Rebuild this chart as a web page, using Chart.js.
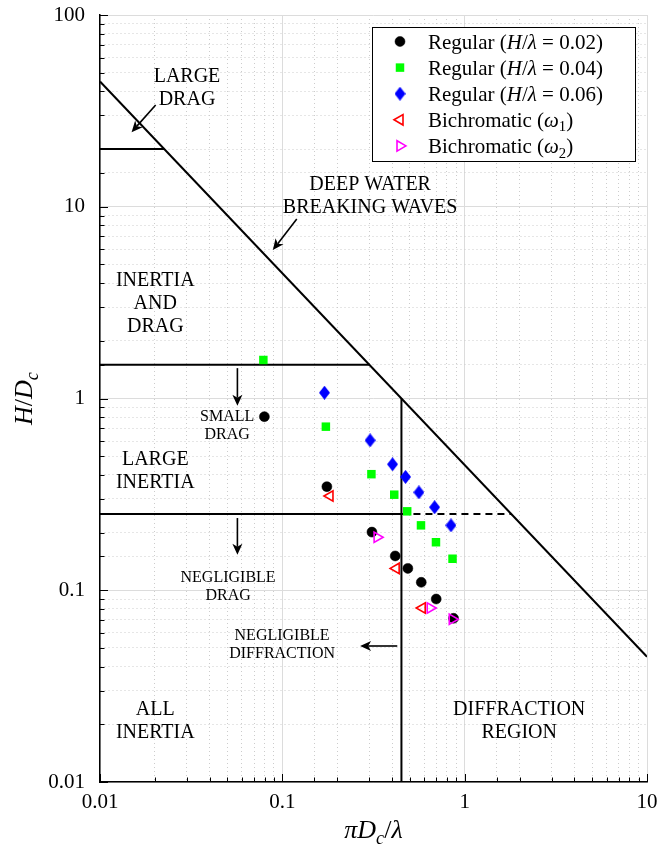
<!DOCTYPE html>
<html>
<head>
<meta charset="utf-8">
<script src="https://cdn.jsdelivr.net/npm/chart.js@4.4.1/dist/chart.umd.min.js"></script>
<style>
  html, body { margin: 0; padding: 0; background: #fff; }
  #wrap { width: 670px; height: 848px; }
</style>
</head>
<body>
<div id="wrap"><canvas id="waveChart" width="670" height="848"></canvas></div>
<script>
// Measured points (pi*Dc/lambda, H/Dc)
const regular002X = [0.0797, 0.1755, 0.310, 0.416, 0.488, 0.578, 0.698, 0.869];
const regular002Y = [0.804, 0.347, 0.201, 0.151, 0.130, 0.110, 0.090, 0.0714];

const regular004X = [0.0787, 0.1733, 0.308, 0.411, 0.484, 0.576, 0.696, 0.858];
const regular004Y = [1.588, 0.713, 0.403, 0.315, 0.258, 0.218, 0.178, 0.146];

const regular006X = [0.1703, 0.303, 0.402, 0.474, 0.561, 0.684, 0.841];
const regular006Y = [1.072, 0.605, 0.454, 0.390, 0.324, 0.271, 0.218];

const bichromW1X = [0.1825, 0.421, 0.585];
const bichromW1Y = [0.310, 0.130, 0.0808];

const bichromW2X = [0.331, 0.647, 0.855];
const bichromW2Y = [0.189, 0.0808, 0.0706];

const seriesLabels = [
    'Regular (*H*/*λ* = 0.02)',
    'Regular (*H*/*λ* = 0.04)',
    'Regular (*H*/*λ* = 0.06)',
    'Bichromatic (*ω*_1)',
    'Bichromatic (*ω*_2)'
];

// Regime boundaries
const breakingX = [0.01, 10];
const breakingY = [45, 0.045];
const largeDragX = [0.01, 0.0225];
const largeDragY = [20, 20];
const inertiaDragX = [0.01, 0.3];
const inertiaDragY = [1.5, 1.5];
const largeInertiaX = [0.01, 0.45];
const largeInertiaY = [0.25, 0.25];
const dashedX = [0.45, 1.8];
const dashedY = [0.25, 0.25];
const diffractionX = [0.45, 0.45];
const diffractionY = [0.01, 1];

// Axis ticks
const xTickLabels = [0.01, 0.1, 1, 10];
const yTickLabels = [0.01, 0.1, 1, 10, 100];

// Region annotations (data coordinates)
const regionLabels = [
    { text: 'LARGE\nDRAG', x: 0.0300, y: 41.4 },
    { text: 'DEEP WATER\nBREAKING WAVES', x: 0.303, y: 11.3 },
    { text: 'INERTIA\nAND\nDRAG', x: 0.0201, y: 3.11 },
    { text: 'SMALL\nDRAG', x: 0.0498, y: 0.719, small: true },
    { text: 'LARGE\nINERTIA', x: 0.0201, y: 0.419 },
    { text: 'NEGLIGIBLE\nDRAG', x: 0.0504, y: 0.104, small: true },
    { text: 'NEGLIGIBLE\nDIFFRACTION', x: 0.0997, y: 0.0518, small: true },
    { text: 'ALL\nINERTIA', x: 0.0201, y: 0.0208 },
    { text: 'DIFFRACTION\nREGION', x: 1.99, y: 0.0208 }
];

const arrows = [
    { x0: 0.0202, y0: 33.9, x1: 0.0149, y1: 24.5 },
    { x0: 0.120, y0: 8.63, x1: 0.0887, y1: 5.95 },
    { x0: 0.0567, y0: 1.44, x1: 0.0567, y1: 0.917 },
    { x0: 0.0567, y0: 0.238, x1: 0.0567, y1: 0.153 },
    { x0: 0.427, y0: 0.0512, x1: 0.267, y1: 0.0512 }
];

const SERIF = '"Liberation Serif", "DejaVu Serif", serif';

function zip(xs, ys) {
    return xs.map((v, i) => ({ x: v, y: ys[i] }));
}

function isDecade(v) {
    const l = Math.log10(v);
    return Math.abs(l - Math.round(l)) < 1e-6;
}

// Blue diamond marker (taller than wide)
function makeDiamond(w, h, color) {
    const c = document.createElement('canvas');
    c.width = w; c.height = h;
    const g = c.getContext('2d');
    g.fillStyle = color;
    g.beginPath();
    g.moveTo(w / 2, 0);
    g.lineTo(w, h / 2);
    g.lineTo(w / 2, h);
    g.lineTo(0, h / 2);
    g.closePath();
    g.fill();
    return c;
}
const diamond = makeDiamond(11, 14, '#0000ff');

// Simple rich text: *...* italic, _x subscript
function richSegments(str) {
    const segs = [];
    let italic = false;
    for (let i = 0; i < str.length; i++) {
        const ch = str[i];
        if (ch === '*') { italic = !italic; continue; }
        if (ch === '_') { segs.push({ t: str[i + 1], it: italic, sub: true }); i++; continue; }
        const last = segs[segs.length - 1];
        if (last && !last.sub && last.it === italic) last.t += ch;
        else segs.push({ t: ch, it: italic, sub: false });
    }
    return segs;
}

function drawRich(ctx, str, x, y, size, align) {
    const segs = richSegments(str);
    const fontOf = s => (s.it ? 'italic ' : '') + (s.sub ? size * 0.7 : size) + 'px ' + SERIF;
    let w = 0;
    segs.forEach(s => { ctx.font = fontOf(s); s.w = ctx.measureText(s.t).width; w += s.w; });
    let cx = align === 'center' ? x - w / 2 : x;
    ctx.textAlign = 'left';
    ctx.textBaseline = 'alphabetic';
    segs.forEach(s => {
        ctx.font = fontOf(s);
        ctx.fillText(s.t, cx, y + (s.sub ? size * 0.22 : 0));
        cx += s.w;
    });
}

function drawArrow(ctx, x0, y0, x1, y1) {
    const ang = Math.atan2(y1 - y0, x1 - x0);
    const len = 11, half = 5, notch = 3;
    ctx.strokeStyle = '#000';
    ctx.fillStyle = '#000';
    ctx.lineWidth = 1.6;
    ctx.beginPath();
    ctx.moveTo(x0, y0);
    ctx.lineTo(x1 - Math.cos(ang) * (len - notch), y1 - Math.sin(ang) * (len - notch));
    ctx.stroke();
    ctx.save();
    ctx.translate(x1, y1);
    ctx.rotate(ang);
    ctx.beginPath();
    ctx.moveTo(0, 0);
    ctx.lineTo(-len, -half);
    ctx.lineTo(-len + notch, 0);
    ctx.lineTo(-len, half);
    ctx.closePath();
    ctx.fill();
    ctx.restore();
}

const overlayPlugin = {
    id: 'overlay',
    afterDatasetsDraw(chart) {
        const { ctx, chartArea, scales } = chart;
        const xs = scales.x, ys = scales.y;
        ctx.save();

        // inward tick marks on left and bottom axes
        ctx.strokeStyle = '#000';
        ctx.lineWidth = 1;
        ys.ticks.forEach(t => {
            const py = Math.round(ys.getPixelForValue(t.value)) + 0.5;
            const len = isDecade(t.value) ? 8 : 4.5;
            ctx.beginPath();
            ctx.moveTo(chartArea.left, py);
            ctx.lineTo(chartArea.left + len, py);
            ctx.stroke();
        });
        xs.ticks.forEach(t => {
            const px = Math.round(xs.getPixelForValue(t.value)) + 0.5;
            const len = isDecade(t.value) ? 8 : 4.5;
            ctx.beginPath();
            ctx.moveTo(px, chartArea.bottom);
            ctx.lineTo(px, chartArea.bottom - len);
            ctx.stroke();
        });

        // region labels
        ctx.fillStyle = '#000';
        ctx.textAlign = 'center';
        ctx.textBaseline = 'middle';
        regionLabels.forEach(l => {
            const px = xs.getPixelForValue(l.x);
            const py = ys.getPixelForValue(l.y);
            const size = l.small ? 16 : 20;
            const lh = l.small ? 18.5 : 23;
            const lines = l.text.split('\n');
            ctx.font = size + 'px ' + SERIF;
            lines.forEach((t, i) => ctx.fillText(t, px, py + (i - (lines.length - 1) / 2) * lh));
        });

        arrows.forEach(a => drawArrow(ctx,
            xs.getPixelForValue(a.x0), ys.getPixelForValue(a.y0),
            xs.getPixelForValue(a.x1), ys.getPixelForValue(a.y1)));

        ctx.restore();
    },
    afterDraw(chart) {
        const { ctx, chartArea } = chart;
        ctx.save();

        // legend box, top-right inside the plot
        const boxW = 263, boxH = 134;
        const bx = chartArea.right - 12 - boxW;
        const by = chartArea.top + 12;
        ctx.fillStyle = '#fff';
        ctx.fillRect(bx, by, boxW, boxH);
        ctx.strokeStyle = '#000';
        ctx.lineWidth = 1;
        ctx.strokeRect(Math.round(bx) + 0.5, Math.round(by) + 0.5, boxW, boxH);

        const pointDatasets = chart.data.datasets.filter(d => d.legendRow !== undefined);
        pointDatasets.forEach(d => {
            const cy = by + 14.5 + d.legendRow * 26.1;
            const mx = bx + 28;
            ctx.fillStyle = d.backgroundColor;
            ctx.strokeStyle = d.borderColor;
            ctx.lineWidth = d.borderWidth;
            Chart.helpers.drawPoint(ctx, {
                pointStyle: d.pointStyle,
                rotation: d.pointRotation || 0,
                radius: d.pointRadius,
                borderWidth: d.borderWidth
            }, mx, cy);
            ctx.fillStyle = '#000';
            drawRich(ctx, seriesLabels[d.legendRow], bx + 56, cy + 7, 21, 'left');
        });

        // axis titles
        ctx.fillStyle = '#000';
        const midX = (chartArea.left + chartArea.right) / 2;
        drawRich(ctx, '*πD_c*/*λ*', midX, 838, 26, 'center');
        ctx.translate(32, (chartArea.top + chartArea.bottom) / 2);
        ctx.rotate(-Math.PI / 2);
        drawRich(ctx, '*H*/*D_c*', 0, 0, 26, 'center');

        ctx.restore();
    }
};

function makeChart() {
    const ctx = document.getElementById('waveChart').getContext('2d');
    const lineStyle = {
        showLine: true, pointRadius: 0, borderColor: '#000', borderWidth: 2,
        backgroundColor: '#000', fill: false, order: 10
    };
    const tickFont = { family: SERIF, size: 21 };

    new Chart(ctx, {
        type: 'scatter',
        data: {
            datasets: [
                Object.assign({ data: zip(breakingX, breakingY) }, lineStyle),
                Object.assign({ data: zip(largeDragX, largeDragY) }, lineStyle),
                Object.assign({ data: zip(inertiaDragX, inertiaDragY) }, lineStyle),
                Object.assign({ data: zip(largeInertiaX, largeInertiaY) }, lineStyle),
                Object.assign({ data: zip(dashedX, dashedY), borderDash: [7, 5] }, lineStyle),
                Object.assign({ data: zip(diffractionX, diffractionY) }, lineStyle),
                {
                    label: seriesLabels[0], legendRow: 0, order: 5,
                    data: zip(regular002X, regular002Y),
                    pointStyle: 'circle', pointRadius: 5, borderWidth: 0.5,
                    backgroundColor: '#000', borderColor: '#000'
                },
                {
                    label: seriesLabels[1], legendRow: 1, order: 4,
                    data: zip(regular004X, regular004Y),
                    pointStyle: 'rect', pointRadius: 6, borderWidth: 0,
                    backgroundColor: '#00ff00', borderColor: '#00ff00'
                },
                {
                    label: seriesLabels[2], legendRow: 2, order: 3,
                    data: zip(regular006X, regular006Y),
                    pointStyle: diamond, pointRadius: 7, borderWidth: 0,
                    backgroundColor: '#0000ff', borderColor: '#0000ff'
                },
                {
                    label: seriesLabels[3], legendRow: 3, order: 2,
                    data: zip(bichromW1X, bichromW1Y),
                    pointStyle: 'triangle', pointRotation: -90, pointRadius: 6, borderWidth: 1.6,
                    backgroundColor: 'rgba(0,0,0,0)', borderColor: '#ff0000'
                },
                {
                    label: seriesLabels[4], legendRow: 4, order: 1,
                    data: zip(bichromW2X, bichromW2Y),
                    pointStyle: 'triangle', pointRotation: 90, pointRadius: 6, borderWidth: 1.6,
                    backgroundColor: 'rgba(0,0,0,0)', borderColor: '#ff00ff'
                }
            ]
        },
        options: {
            responsive: false,
            animation: false,
            devicePixelRatio: 1,
            layout: { padding: { top: 15, right: 23, left: 0, bottom: 0 } },
            plugins: { legend: { display: false }, tooltip: { enabled: false } },
            scales: {
                x: {
                    type: 'logarithmic', position: 'bottom', min: 0.01, max: 10,
                    afterFit: s => { s.height = 66; },
                    ticks: {
                        autoSkip: false, maxRotation: 0, padding: 8, color: '#000', font: tickFont,
                        callback: v => xTickLabels.find(t => Math.abs(t - v) < 1e-9) !== undefined ? String(v) : ''
                    },
                    grid: {
                        drawTicks: false, lineWidth: 1,
                        color: c => (c.tick && isDecade(c.tick.value)) ? '#dcdcdc' : '#cccccc'
                    },
                    border: {
                        color: '#000', width: 1.5,
                        dash: c => (c.tick && !isDecade(c.tick.value)) ? [1, 3] : []
                    }
                },
                y: {
                    type: 'logarithmic', position: 'left', min: 0.01, max: 100,
                    // fixed axis width; drop the vertical label padding so the plot starts at the top margin
                    afterFit: s => { s.width = 100; s.paddingTop = 3; s.paddingBottom = 3; },
                    ticks: {
                        autoSkip: false, padding: 15, color: '#000', font: tickFont,
                        callback: v => yTickLabels.find(t => Math.abs(t - v) < 1e-9) !== undefined ? String(v) : ''
                    },
                    grid: {
                        drawTicks: false, lineWidth: 1,
                        color: c => (c.tick && isDecade(c.tick.value)) ? '#dcdcdc' : '#cccccc'
                    },
                    border: {
                        color: '#000', width: 1.5,
                        dash: c => (c.tick && !isDecade(c.tick.value)) ? [1, 3] : []
                    }
                }
            }
        },
        plugins: [overlayPlugin]
    });
}

window.onload = makeChart;
</script>
</body>
</html>
